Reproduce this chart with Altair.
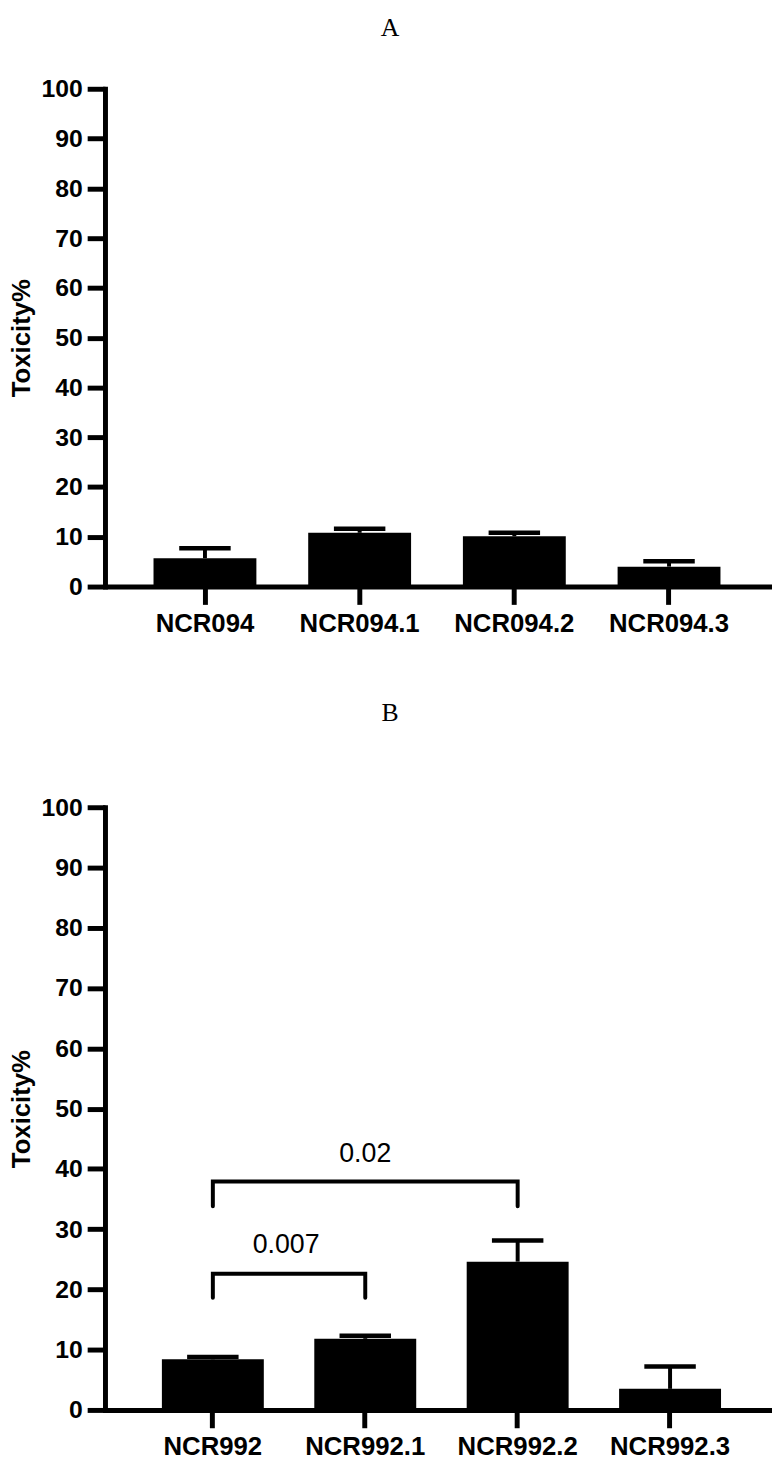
import altair as alt
import pandas as pd

# ---------------- data ----------------
cats_a = ["NCR094", "NCR094.1", "NCR094.2", "NCR094.3"]
mean_a = [5.7, 10.8, 10.1, 4.0]
sd_a = [2.0, 0.8, 0.7, 1.1]

cats_b = ["NCR992", "NCR992.1", "NCR992.2", "NCR992.3"]
mean_b = [8.4, 11.8, 24.6, 3.5]
sd_b = [0.4, 0.5, 3.5, 3.7]

y_ticks = [0, 10, 20, 30, 40, 50, 60, 70, 80, 90, 100]

# significance brackets (panel B)
br_id = ["b1", "b1", "b1", "b1", "b2", "b2", "b2", "b2"]
br_cat = ["NCR992", "NCR992", "NCR992.1", "NCR992.1",
          "NCR992", "NCR992", "NCR992.2", "NCR992.2"]
br_val = [18.6, 22.6, 22.6, 18.6, 33.8, 37.9, 37.9, 33.8]
br_order = [0, 1, 2, 3, 0, 1, 2, 3]

p_text = ["0.007", "0.02"]
p_cat = ["NCR992", "NCR992.1"]
p_val = [27.3, 42.5]

YTITLE = "Toxicity%"
FONT = "Liberation Sans"


def panel(cats, means, sds, title, height, title_offset, pi, po, al):
    df = pd.DataFrame({
        "cat": cats,
        "mean": means,
        "upper": [m + s for m, s in zip(means, sds)],
    })
    xscale = alt.Scale(paddingInner=pi, paddingOuter=po, align=al)
    xaxis = alt.Axis(
        labelAngle=0, labelFont=FONT, labelFontWeight="bold", labelFontSize=26,
        labelColor="black", labelPadding=6, tickSize=18, tickWidth=5,
        tickColor="black", domainWidth=5, domainColor="black", grid=False,
        title=None,
    )
    yaxis = alt.Axis(
        values=y_ticks, labelFont=FONT, labelFontWeight="bold", labelFontSize=25,
        labelColor="black", labelPadding=5, tickSize=18, tickWidth=5,
        tickColor="black", domainWidth=5, domainColor="black",
        domainCap="square", grid=False, titleFont=FONT, titleFontWeight="bold",
        titleFontSize=26, titleColor="black", titlePadding=7,
    )
    yscale = alt.Scale(domain=[0, 100], nice=False)
    base = alt.Chart(df)
    x = alt.X("cat:N", sort=cats, scale=xscale, axis=xaxis, title=None)
    bars = base.mark_bar(color="black", opacity=1).encode(
        x=x, y=alt.Y("mean:Q", scale=yscale, axis=yaxis, title=YTITLE)
    )
    stem = base.mark_rule(color="black", strokeWidth=4, opacity=1).encode(
        x=alt.X("cat:N", sort=cats, title=None),
        y=alt.Y("mean:Q", title=YTITLE),
        y2="upper:Q",
    )
    cap = base.mark_tick(color="black", thickness=4.5, size=52, opacity=1).encode(
        x=alt.X("cat:N", sort=cats, title=None),
        y=alt.Y("upper:Q", title=YTITLE),
    )
    return [bars, stem, cap], dict(
        width=674, height=height,
        title=alt.TitleParams(
            text=title, font="Liberation Serif", fontSize=26,
            fontWeight="normal", color="black", anchor="middle",
            frame="bounds", offset=title_offset,
        ),
    )


layers_a, props_a = panel(cats_a, mean_a, sd_a, "A", 503, 36, 0.335, 0.3234, 0.485)
chart_a = alt.layer(*layers_a).properties(**props_a)

layers_b, props_b = panel(cats_b, mean_b, sd_b, "B", 609, 70, 0.3312, 0.3539, 0.5275)

br_df = pd.DataFrame({"id": br_id, "cat": br_cat, "val": br_val, "ord": br_order})
brackets = alt.Chart(br_df).mark_line(
    color="black", strokeWidth=4, strokeCap="round", strokeJoin="miter"
).encode(
    x=alt.X("cat:N", sort=cats_b, title=None),
    y=alt.Y("val:Q", title=YTITLE),
    detail="id:N",
    order="ord:Q",
)

p_df = pd.DataFrame({"txt": p_text, "cat": p_cat, "val": p_val})
txt1 = alt.Chart(p_df).transform_filter(alt.datum.txt == "0.007").mark_text(
    font=FONT, fontSize=27, color="black", align="center", baseline="middle", dx=74
).encode(
    x=alt.X("cat:N", sort=cats_b, title=None),
    y=alt.Y("val:Q", title=YTITLE),
    text="txt:N",
)
txt2 = alt.Chart(p_df).transform_filter(alt.datum.txt == "0.02").mark_text(
    font=FONT, fontSize=27, color="black", align="center", baseline="middle"
).encode(
    x=alt.X("cat:N", sort=cats_b, title=None),
    y=alt.Y("val:Q", title=YTITLE),
    text="txt:N",
)

chart_b = alt.layer(*layers_b, brackets, txt1, txt2).properties(**props_b)

chart = alt.vconcat(chart_a, chart_b, spacing=65).properties(
    padding={"left": 0, "top": 0, "right": 0, "bottom": -5},
    background="white",
).configure_view(strokeWidth=0)

chart.save("out.html", embed_options={"renderer": "svg", "actions": False})
